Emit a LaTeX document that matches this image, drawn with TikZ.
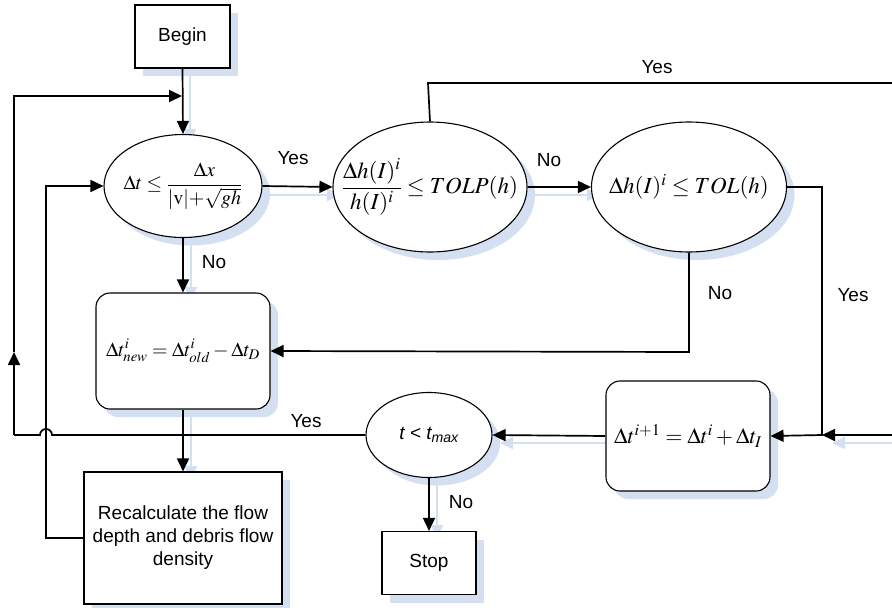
\documentclass[tikz,border=0pt]{standalone}
\usepackage{mathptmx}
\usepackage{fontspec}
\setmainfont{Liberation Sans}
\usetikzlibrary{shapes.geometric,shadows,arrows.meta}
\definecolor{shadowc}{RGB}{212,224,242}
\newcommand{\msize}[1]{\fontsize{#1}{#1}\selectfont}
\begin{document}
\begin{tikzpicture}[x=1pt,y=-1pt,font=\fontsize{19}{23}\selectfont,
  base/.style={draw=black,line width=1.1pt,fill=white,inner sep=0pt,
    drop shadow={shadow xshift=8pt,shadow yshift=-8pt,fill=shadowc,opacity=1}},
  sqbox/.style={base,rectangle,align=center},
  rbox/.style={base,rectangle,rounded corners=14pt},
  oval/.style={base,ellipse},
  conn/.style={line width=1.7pt,draw=black},
  arr/.style={conn,-{Triangle[length=13pt,width=12pt]}},
  shline/.style={line width=2.4pt,draw=shadowc,-{Triangle[length=13pt,width=12pt]}},
  lbl/.style={inner sep=0pt}]
\useasboundingbox (0,0) rectangle (892,608);
% arrow shadows
\draw[shline] (190,72) -- (190,142);
\draw[shline] (264,195) -- (340,195);
\draw[shline] (528,195) -- (600,195);
\draw[shline] (191,244) -- (191,300);
\draw[shline] (191,414) -- (191,479);
\draw[shline] (437,484) -- (437,538);
\draw[shline] (606,443) -- (500,443);
\draw[shline] (900,443) -- (832,443);
% nodes
\node[sqbox,minimum width=95,minimum height=63] (begin) at (182.5,36.5) {Begin};
\node[oval,minimum width=158,minimum height=103] (e1) at (183,186)
  {\makebox[0pt]{\msize{20}$\displaystyle\Delta t\le\frac{\Delta x}{|\mathrm{v}|{+}\sqrt{gh}}$}};
\node[oval,minimum width=194,minimum height=130] (e2) at (430,187)
  {\makebox[0pt]{\msize{23}$\displaystyle\frac{\Delta h(I)^i}{h(I)^i}\le TOLP(h)$}};
\node[oval,minimum width=195,minimum height=130] (e3) at (689,187)
  {\makebox[0pt]{\msize{23}$\Delta h(I)^i\le TOL(h)$}};
\node[rbox,minimum width=174,minimum height=116] (dnew) at (183,351)
  {\makebox[0pt]{\msize{20}$\Delta t^i_{new}=\Delta t^i_{old}-\Delta t_D$}};
\node[sqbox,minimum width=198,minimum height=132] (recalc) at (183,538)
  {Recalculate the flow\\depth and debris flow\\density};
\node[oval,minimum width=126,minimum height=85] (tt) at (429,435)
  {\makebox[0pt]{\itshape t < t\textsubscript{max}}};
\node[sqbox,minimum width=94,minimum height=63] (stop) at (429,563) {Stop};
\node[rbox,minimum width=164,minimum height=110] (dnext) at (688,436)
  {\makebox[0pt]{\msize{22}$\Delta t^{i+1}=\Delta t^i+\Delta t_I$}};
% coordinates
\coordinate (j1) at (182,96);
\coordinate (l1) at (14,96);
\coordinate (l2) at (14,435);
\coordinate (lm) at (14,352);
\coordinate (h1) at (52,435);
\coordinate (r1) at (46,538);
\coordinate (r2) at (46,186);
\coordinate (t1) at (428,83);
\coordinate (t2) at (898,83);
\coordinate (t3) at (898,435);
\coordinate (t4) at (822,435);
\coordinate (y1) at (822,187);
\coordinate (n1) at (689,352);
% connectors
\draw[arr] (begin.south) -- (e1.north);
\draw[arr] (e1.east) -- (e2.west);
\draw[arr] (e2.east) -- (e3.west);
\draw[arr] (e1.south) -- (dnew.north);
\draw[arr] (dnew.south) -- (recalc.north);
\draw[arr] (tt.south) -- (stop.north);
\draw[arr] (dnext.west) -- (tt.east);
\draw[arr] (e3.east) -- (y1) -- (t4) -- (dnext.east);
\draw[arr] (e3.south) -- (n1) -- (dnew.east);
\draw[conn] (e2.north) -- (t1) -- (t2) -- (t3);
\draw[arr] (t3) -- (t4);
\draw[arr] (recalc.west) -- (r1) -- (r2) -- (e1.west);
\draw[conn] (tt.west) -- (h1) arc[start angle=0,end angle=180,radius=6pt] -- (l2);
\draw[arr] (l2) -- (lm);
\draw[arr] (lm) -- (l1) -- (j1);
% labels
\node[lbl] (ly1) at (293,158) {Yes};
\node[lbl] (ln1) at (549,160) {No};
\node[lbl] (ln2) at (214,262) {No};
\node[lbl] (ly2) at (657,67) {Yes};
\node[lbl] (ln3) at (720,293) {No};
\node[lbl] (ly3) at (853,295) {Yes};
\node[lbl] (ly4) at (306,421) {Yes};
\node[lbl] (ln4) at (461,502) {No};
\end{tikzpicture}
\end{document}
